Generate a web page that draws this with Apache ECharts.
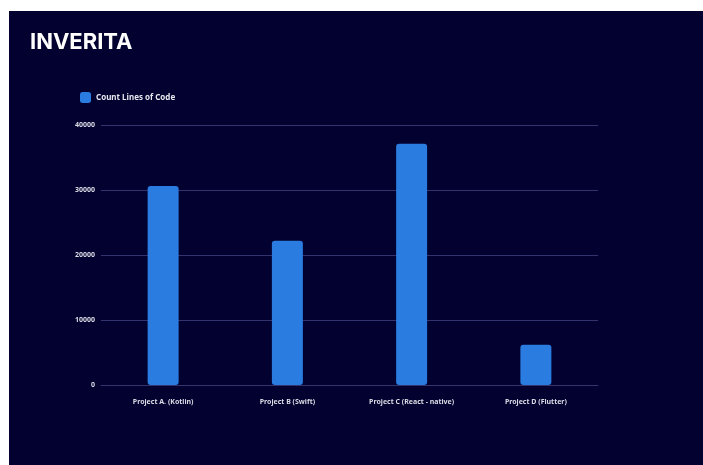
<!DOCTYPE html>
<html>
<head>
<meta charset="utf-8">
<script src="https://cdn.jsdelivr.net/npm/echarts@6/dist/echarts.min.js"></script>
<style>
html,body{margin:0;padding:0;background:#02012f;width:100%;height:100%;overflow:hidden;}
#wt{position:absolute;left:0;top:0;width:100%;height:11px;background:#ffffff;}
#wl{position:absolute;left:0;top:0;width:9px;height:100%;background:#ffffff;}
#c{position:absolute;left:9px;top:11px;width:700px;height:460px;background:#02012f;}
</style>
</head>
<body>
<div id="c"></div>
<div id="wt"></div>
<div id="wl"></div>
<script>
const categories = ['Project A. (Kotlin)', 'Project B (Swift)', 'Project C (React - native)', 'Project D (Flutter)'];
const countLines = [30600, 22200, 37100, 6200];
const seriesName = 'Count Lines of Code';
const yTicks = [0, 10000, 20000, 30000, 40000];

const chart = echarts.init(document.getElementById('c'), null, {renderer: 'canvas'});
chart.setOption({
  backgroundColor: '#02012f',
  animation: false,
  title: {
    text: 'INVERITA',
    left: 16, top: 15,
    textStyle: {color: '#ffffff', fontSize: 22, fontWeight: 'bold', fontFamily: 'Inter'}
  },
  legend: {
    left: 66, top: 76,
    itemWidth: 11, itemHeight: 11, itemGap: 6,
    icon: 'roundRect',
    data: [seriesName],
    textStyle: {color: '#e8e8f0', fontSize: 8, fontWeight: 'bold', fontFamily: 'Noto Sans'}
  },
  grid: {left: 92, right: 111, top: 114, bottom: 86, containLabel: false},
  xAxis: {
    type: 'category',
    data: categories,
    axisLine: {show: true, lineStyle: {color: '#33336e', width: 1}},
    axisTick: {show: false},
    axisLabel: {color: '#dcdce6', fontSize: 7, fontWeight: 'bold', fontFamily: 'Noto Sans', margin: 13, interval: 0}
  },
  yAxis: {
    type: 'value',
    min: yTicks[0], max: yTicks[yTicks.length - 1], interval: 10000,
    axisLine: {show: false},
    axisTick: {show: false},
    splitLine: {lineStyle: {color: '#33336e', width: 1}},
    axisLabel: {color: '#dcdce6', fontSize: 7, fontWeight: 'bold', fontFamily: 'Noto Sans', margin: 6,
      formatter: function (v) { return String(v); }}
  },
  series: [{
    name: seriesName,
    type: 'bar',
    data: countLines,
    barWidth: 31,
    itemStyle: {color: '#2a7ce0', borderRadius: 3}
  }]
});
</script>
</body>
</html>
